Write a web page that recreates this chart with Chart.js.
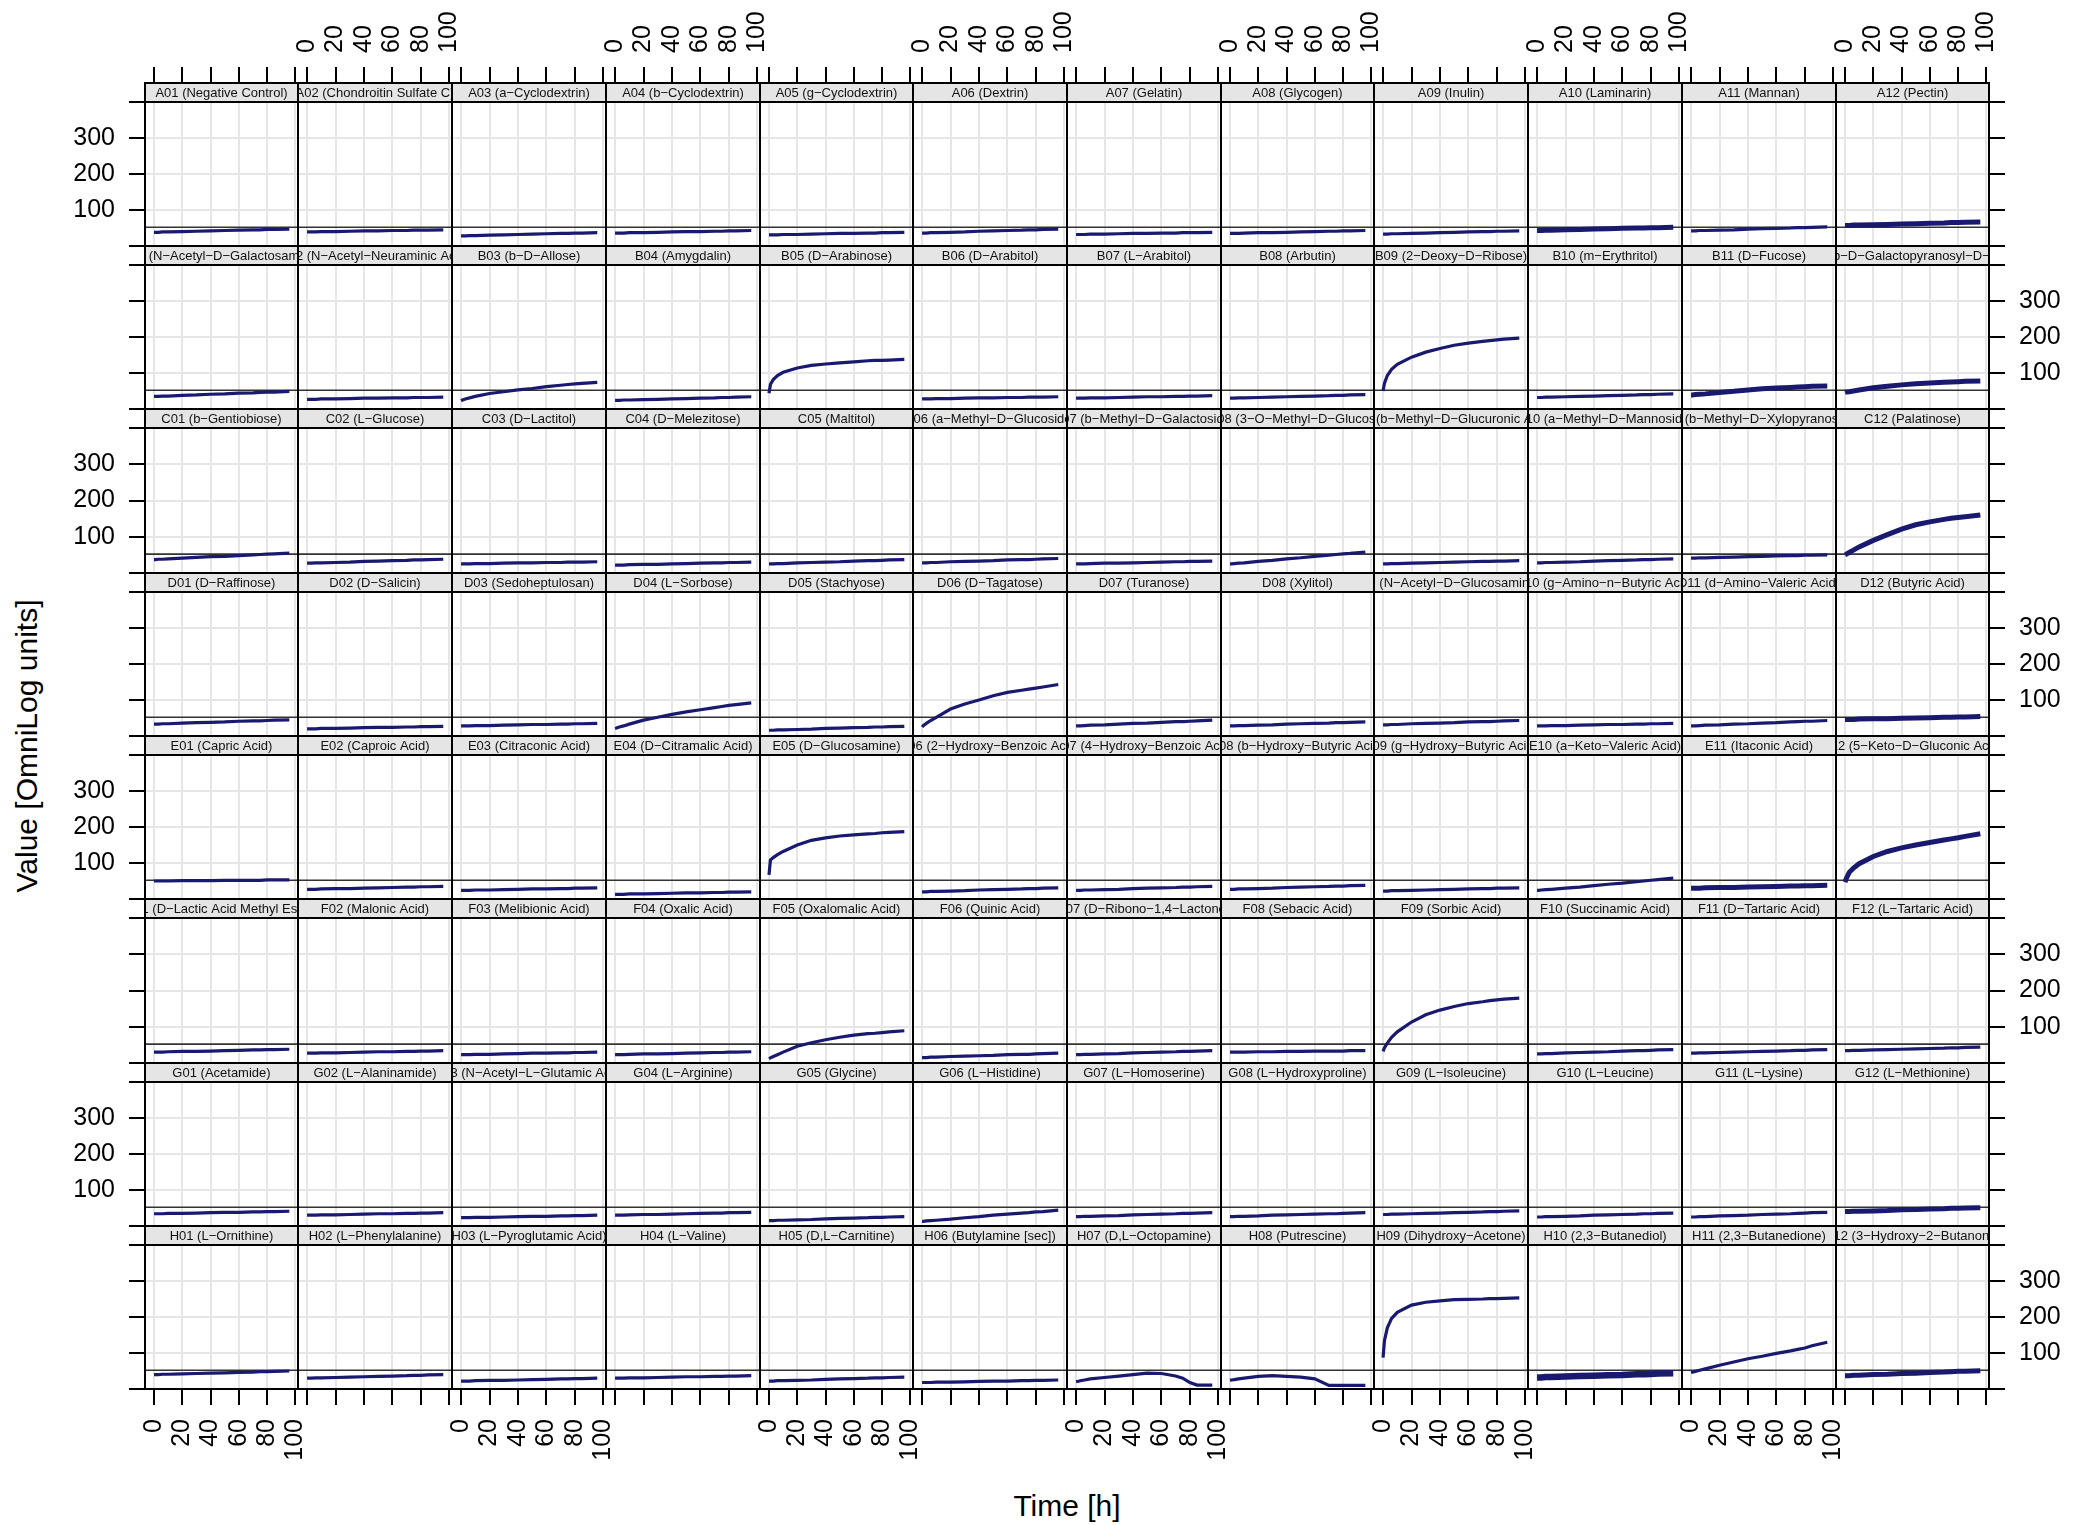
<!DOCTYPE html>
<html><head><meta charset="utf-8">
<script src="https://cdn.jsdelivr.net/npm/chart.js"></script>
<style>
html,body{margin:0;padding:0;background:#fff;overflow:hidden;width:2084px;height:1525px;}
#wrap{position:relative;width:2084px;height:1525px;overflow:hidden;background:#fff;}
canvas.panel{position:absolute;}
.lab{position:absolute;font-family:"Liberation Sans",Arial,sans-serif;font-size:30px;color:#000;white-space:nowrap;transform-origin:center center;}
</style></head><body><div id="wrap">
<div class="lab" id="ylab" style="left:27px;top:746px;transform:translate(-50%,-50%) rotate(-90deg);">Value [OmniLog units]</div>
<div class="lab" id="xlab" style="left:1067px;top:1506px;transform:translate(-50%,-50%);">Time [h]</div>
</div>
<script>
// ---------------- data ----------------
const TIME = [0, 1, 3, 6, 10, 20, 30, 40, 50, 60, 70, 75, 80, 85, 95.75];
const ROWS = ['A','B','C','D','E','F','G','H'];
const X_TICKS = [0, 20, 40, 60, 80, 100];
const Y_TICKS = [0, 100, 200, 300, 400];
const Y_TICK_LABELS = ['', '100', '200', '300', ''];
const NEG_CTRL = 52;           // negative control level (A01)
const NOISY_WELLS = ['A10','A12','B11','B12','C12','D12','E11','E12','G12','H12'];
const VERY_NOISY_WELLS = ['H10'];

const SUBSTRATES_A = ['Negative Control','Chondroitin Sulfate C','a-Cyclodextrin','b-Cyclodextrin','g-Cyclodextrin','Dextrin','Gelatin','Glycogen','Inulin','Laminarin','Mannan','Pectin'];
const SUBSTRATES_B = ['N-Acetyl-D-Galactosamine','N-Acetyl-Neuraminic Acid','b-D-Allose','Amygdalin','D-Arabinose','D-Arabitol','L-Arabitol','Arbutin','2-Deoxy-D-Ribose','m-Erythritol','D-Fucose','3-0-b-D-Galactopyranosyl-D-Arabinose'];
const SUBSTRATES_C = ['b-Gentiobiose','L-Glucose','D-Lactitol','D-Melezitose','Maltitol','a-Methyl-D-Glucoside','b-Methyl-D-Galactoside','3-O-Methyl-D-Glucose','b-Methyl-D-Glucuronic Acid','a-Methyl-D-Mannoside','b-Methyl-D-Xylopyranoside','Palatinose'];
const SUBSTRATES_D = ['D-Raffinose','D-Salicin','Sedoheptulosan','L-Sorbose','Stachyose','D-Tagatose','Turanose','Xylitol','N-Acetyl-D-Glucosaminitol','g-Amino-n-Butyric Acid','d-Amino-Valeric Acid','Butyric Acid'];
const SUBSTRATES_E = ['Capric Acid','Caproic Acid','Citraconic Acid','D-Citramalic Acid','D-Glucosamine','2-Hydroxy-Benzoic Acid','4-Hydroxy-Benzoic Acid','b-Hydroxy-Butyric Acid','g-Hydroxy-Butyric Acid','a-Keto-Valeric Acid','Itaconic Acid','5-Keto-D-Gluconic Acid'];
const SUBSTRATES_F = ['D-Lactic Acid Methyl Ester','Malonic Acid','Melibionic Acid','Oxalic Acid','Oxalomalic Acid','Quinic Acid','D-Ribono-1,4-Lactone','Sebacic Acid','Sorbic Acid','Succinamic Acid','D-Tartaric Acid','L-Tartaric Acid'];
const SUBSTRATES_G = ['Acetamide','L-Alaninamide','N-Acetyl-L-Glutamic Acid','L-Arginine','Glycine','L-Histidine','L-Homoserine','L-Hydroxyproline','L-Isoleucine','L-Leucine','L-Lysine','L-Methionine'];
const SUBSTRATES_H = ['L-Ornithine','L-Phenylalanine','L-Pyroglutamic Acid','L-Valine','D,L-Carnitine','Butylamine [sec]','D,L-Octopamine','Putrescine','Dihydroxy-Acetone','2,3-Butanediol','2,3-Butanedione','3-Hydroxy-2-Butanone'];

const VALUES_A = [
 [38,38,38,39,39,40,41,42,43,44,45,45,46,46,47],
 [39,39,39,39,40,40,41,42,42,43,43,44,44,44,45],
 [28,28,28,29,29,30,31,32,33,34,35,35,36,36,37],
 [36,36,36,36,37,37,38,39,40,40,41,41,42,42,43],
 [31,31,31,31,32,32,33,34,35,35,36,36,37,37,38],
 [36,36,36,37,37,38,39,41,42,43,44,45,45,46,47],
 [32,32,32,32,33,33,34,35,35,36,36,37,37,37,38],
 [35,35,35,35,36,37,37,38,39,40,41,41,42,42,43],
 [33,33,33,34,34,35,36,37,38,39,40,40,41,41,42],
 [43,43,43,44,44,45,46,47,48,49,50,50,51,51,52],
 [42,42,42,43,43,44,45,47,48,49,50,51,51,52,53],
 [57,57,57,58,58,59,60,61,62,63,64,65,65,66,67]
];
const VALUES_B = [
 [35,35,35,36,36,38,39,41,42,44,45,46,47,47,49],
 [27,27,27,27,28,28,29,30,30,31,31,32,32,32,33],
 [23,25,28,31,35,43,48,53,57,62,66,68,70,71,74],
 [24,24,24,25,25,26,27,28,29,30,31,32,32,33,34],
 [44,68,82,93,102,114,121,125,128,131,134,135,135,136,138],
 [28,28,28,28,29,29,30,31,31,32,32,33,33,33,34],
 [30,30,30,30,31,31,32,33,34,34,35,35,36,36,37],
 [30,30,30,31,31,32,33,34,35,36,37,38,38,39,40],
 [50,72,93,110,124,144,158,168,177,183,188,190,192,194,197],
 [32,32,32,33,33,34,35,36,37,38,39,40,40,41,42],
 [39,39,40,41,42,46,49,53,56,58,60,61,62,63,64],
 [46,47,48,50,53,59,63,67,70,72,74,75,76,77,78]
];
const VALUES_C = [
 [37,37,38,38,39,41,43,45,46,48,50,51,52,53,55],
 [27,27,27,28,28,29,30,32,33,34,35,36,36,37,38],
 [25,25,25,25,26,26,27,28,28,29,29,30,30,30,31],
 [22,22,22,22,23,24,24,25,26,27,28,28,29,29,30],
 [25,25,25,26,26,28,29,30,31,33,34,34,35,36,37],
 [28,28,28,29,29,31,32,33,34,36,37,37,38,39,40],
 [25,25,25,25,26,27,27,28,29,30,31,31,32,32,33],
 [25,25,26,27,28,32,35,39,42,46,49,51,53,54,58],
 [25,25,25,26,26,27,28,29,30,31,32,32,33,33,34],
 [28,28,28,29,29,30,31,33,34,35,36,37,37,38,39],
 [41,41,41,42,42,43,44,45,46,47,48,48,49,49,50],
 [50,52,57,63,72,90,106,121,133,141,148,151,153,155,160]
];
const VALUES_D = [
 [33,33,33,34,34,36,37,38,39,41,42,42,43,44,45],
 [20,20,20,20,21,21,22,23,24,24,25,25,26,26,27],
 [28,28,28,28,29,29,30,31,32,32,33,33,34,34,35],
 [21,22,25,28,33,44,52,60,67,73,79,82,85,87,92],
 [16,16,16,17,17,18,19,21,22,23,24,25,25,26,27],
 [25,29,35,43,52,75,89,100,112,121,127,130,133,136,143],
 [28,28,28,29,30,31,33,35,36,38,40,40,41,42,44],
 [28,28,28,29,29,30,31,33,34,35,36,37,37,38,39],
 [31,31,31,32,32,34,35,36,37,39,40,40,41,42,43],
 [28,28,28,28,29,29,30,31,32,32,33,33,34,34,35],
 [28,28,28,29,30,31,33,34,36,37,39,40,41,41,43],
 [46,46,46,46,47,48,48,49,50,51,52,52,53,53,54]
];
const VALUES_E = [
 [50,50,50,50,50,51,51,51,52,52,52,52,53,53,53],
 [27,27,27,27,28,29,29,30,31,32,33,33,34,34,35],
 [24,24,24,24,25,25,26,27,28,28,29,29,30,30,31],
 [13,13,13,13,14,14,15,16,17,17,18,18,19,19,20],
 [67,108,115,123,132,150,163,170,175,178,181,182,184,185,187],
 [20,20,20,21,21,22,23,25,26,27,28,29,29,30,31],
 [24,24,24,25,25,26,27,29,30,31,32,33,33,34,35],
 [27,27,27,28,28,29,30,32,33,34,35,36,36,37,38],
 [22,22,22,23,23,24,25,26,27,28,29,29,30,30,31],
 [24,24,25,26,27,30,33,37,41,44,48,50,52,54,58],
 [30,30,30,30,31,32,32,33,34,35,36,36,37,37,38],
 [47,58,74,86,98,118,132,142,150,157,164,167,170,174,181]
];
const VALUES_F = [
 [30,30,30,30,31,32,32,33,34,35,36,36,37,37,38],
 [27,27,27,27,28,28,29,30,31,31,32,32,33,33,34],
 [23,23,23,23,24,24,25,26,27,27,28,28,29,29,30],
 [23,23,23,23,24,25,25,26,27,28,29,29,30,30,31],
 [12,14,18,23,30,46,56,64,71,77,81,82,84,86,89],
 [15,15,15,16,16,18,19,20,21,23,24,24,25,26,27],
 [23,23,23,24,24,25,26,28,29,30,31,32,32,33,34],
 [30,30,30,30,30,31,31,32,32,33,33,33,33,34,34],
 [32,42,55,71,86,113,133,146,156,164,169,172,174,176,179],
 [25,25,25,26,26,28,29,30,31,33,34,34,35,36,37],
 [27,27,27,28,28,29,30,31,32,33,34,35,35,36,37],
 [34,34,34,35,35,36,37,38,39,40,41,42,42,43,44]
];
const VALUES_G = [
 [34,34,34,34,35,35,36,37,38,38,39,39,40,40,41],
 [30,30,30,30,31,31,32,33,34,34,35,35,36,36,37],
 [23,23,23,23,24,24,25,26,27,27,28,28,29,29,30],
 [30,30,30,30,31,32,32,33,34,35,36,36,37,37,38],
 [15,15,15,16,16,17,18,20,21,22,23,24,24,25,26],
 [13,13,14,15,16,19,23,26,30,33,36,37,39,40,44],
 [26,26,26,27,27,28,29,31,32,33,34,35,35,36,37],
 [26,26,26,27,27,28,30,31,32,33,34,34,35,36,37],
 [32,32,32,33,33,34,35,36,37,38,39,40,40,41,42],
 [25,25,25,26,26,27,28,30,31,32,33,34,34,35,36],
 [25,25,25,26,26,28,29,30,32,33,34,35,36,37,38],
 [40,40,40,41,41,42,43,45,46,47,48,49,49,50,51]
];
const VALUES_H = [
 [40,40,40,41,41,42,43,44,45,46,47,48,48,49,50],
 [30,30,30,31,31,32,33,34,35,36,37,38,38,39,40],
 [22,22,22,22,23,24,24,25,26,27,28,28,29,29,30],
 [30,30,30,30,31,31,32,33,34,34,35,35,36,36,37],
 [22,22,22,23,23,24,25,27,28,29,30,31,31,32,33],
 [18,18,18,18,19,19,20,21,22,22,23,23,24,24,25],
 [20,21,23,25,28,32,36,40,44,43,36,30,18,11,11],
 [24,25,26,28,30,35,37,35,33,28,10,10,10,10,10],
 [87,135,170,196,213,233,241,245,248,249,250,251,251,252,253],
 [32,32,32,33,33,35,36,37,38,39,41,41,42,43,44],
 [46,47,49,52,56,66,75,84,91,99,106,110,114,120,130],
 [37,37,37,38,38,40,41,43,44,46,47,48,49,49,51]
];

const SUBSTRATES = [SUBSTRATES_A,SUBSTRATES_B,SUBSTRATES_C,SUBSTRATES_D,SUBSTRATES_E,SUBSTRATES_F,SUBSTRATES_G,SUBSTRATES_H];
const VALUES = [VALUES_A,VALUES_B,VALUES_C,VALUES_D,VALUES_E,VALUES_F,VALUES_G,VALUES_H];

// ---------------- layout / style ----------------
const FONT = '"Liberation Sans", Arial, Helvetica, sans-serif';
const GRID_LEFT = 144.7, COL_W = 153.72, GRID_TOP = 82.7, ROW_H = 163.3, STRIP_H = 19;
const M = 100, AX = 90;
const X_MIN = -6.37, X_MAX = 101.89;
const LINE_COLOR = '#191970';
const TICK_FONT_SIZE = 25;

Chart.defaults.font.family = FONT;
Chart.defaults.animation = false;

const panelPlugin = {
  id: 'panel',
  beforeDatasetsDraw(chart) {
    const {ctx, chartArea: a} = chart;
    const yy = chart.scales.y.getPixelForValue(NEG_CTRL);
    ctx.save();
    ctx.strokeStyle = '#333333';
    ctx.lineWidth = 1.6;
    ctx.beginPath(); ctx.moveTo(a.left, yy); ctx.lineTo(a.right, yy); ctx.stroke();
    ctx.restore();
  },
  afterDatasetsDraw(chart, args, opts) {
    const {ctx, chartArea: a} = chart;
    const w = a.right - a.left;
    ctx.save();
    ctx.fillStyle = '#e5e5e5';
    ctx.fillRect(a.left, a.top, w, STRIP_H);
    ctx.save();
    ctx.beginPath(); ctx.rect(a.left + 1, a.top, w - 2, STRIP_H); ctx.clip();
    ctx.fillStyle = '#111';
    ctx.font = '13px ' + FONT;
    ctx.textAlign = 'center'; ctx.textBaseline = 'middle';
    ctx.fillText(opts.label, (a.left + a.right) / 2, a.top + STRIP_H / 2 + 0.5);
    ctx.restore();
    ctx.strokeStyle = '#000'; ctx.lineWidth = 2;
    ctx.strokeRect(a.left, a.top, w, a.bottom - a.top);
    ctx.beginPath(); ctx.moveTo(a.left, a.top + STRIP_H); ctx.lineTo(a.right, a.top + STRIP_H); ctx.stroke();
    ctx.restore();
  }
};

const wrap = document.getElementById('wrap');
for (let r = 0; r < 8; r++) {
  for (let c = 0; c < 12; c++) {
    const x0 = Math.round(GRID_LEFT + c * COL_W), x1 = Math.round(GRID_LEFT + (c + 1) * COL_W);
    const y0 = Math.round(GRID_TOP + r * ROW_H), y1 = Math.round(GRID_TOP + (r + 1) * ROW_H);
    const cw = x1 - x0, ch = y1 - y0;
    const cv = document.createElement('canvas');
    cv.className = 'panel';
    cv.width = cw + 2 * M; cv.height = ch + 2 * M;
    cv.style.left = (x0 - M) + 'px'; cv.style.top = (y0 - M) + 'px';
    cv.style.width = cv.width + 'px'; cv.style.height = cv.height + 'px';
    wrap.appendChild(cv);

    const well = ROWS[r] + String(c + 1).padStart(2, '0');
    const label = well + ' (' + SUBSTRATES[r][c] + ')';
    const vals = VALUES[r][c];
    const pts = TIME.map((t, i) => ({x: t, y: vals[i]}));

    const topAxis = r === 0, bottomAxis = r === 7;
    const leftAxis = c === 0, rightAxis = c === 11;
    const xShown = topAxis || bottomAxis;
    const yShown = leftAxis || rightAxis;
    const xLabeled = (topAxis && c % 2 === 1) || (bottomAxis && c % 2 === 0);
    const yLabeled = (leftAxis && r % 2 === 0) || (rightAxis && r % 2 === 1);
    const yMax = 400 * ch / (ch - STRIP_H);

    let bw = 3.2;
    if (NOISY_WELLS.includes(well)) bw = 5;
    if (VERY_NOISY_WELLS.includes(well)) bw = 6.5;

    new Chart(cv, {
      type: 'line',
      data: { datasets: [{ data: pts, borderColor: LINE_COLOR, borderWidth: bw, pointRadius: 0, tension: 0, fill: false }] },
      plugins: [panelPlugin],
      options: {
        responsive: false, devicePixelRatio: 1, animation: false,
        layout: {
          autoPadding: false,
          padding: { left: M - (leftAxis ? AX : 0), right: M - (rightAxis ? AX : 0), top: M - (topAxis ? AX : 0), bottom: M - (bottomAxis ? AX : 0) }
        },
        plugins: { legend: { display: false }, tooltip: { enabled: false }, title: { display: false }, panel: { label: label.replace(/-/g, '\u2212') } },
        scales: {
          x: {
            type: 'linear', min: X_MIN, max: X_MAX,
            position: topAxis ? 'top' : 'bottom',
            afterBuildTicks: s => { s.ticks = X_TICKS.map(v => ({value: v})); },
            afterFit: s => { s.height = xShown ? AX : 0; s.paddingLeft = 0; s.paddingRight = 0; },
            border: { display: false },
            grid: { color: '#e6e6e6', lineWidth: 2, drawTicks: xShown, tickLength: 16, tickColor: '#000', tickWidth: 2 },
            ticks: { display: xShown, autoSkip: false, minRotation: 90, maxRotation: 90, padding: 14, color: '#000',
                     labelOffset: topAxis ? TICK_FONT_SIZE * 1.2 : 0,
                     font: { family: FONT, size: TICK_FONT_SIZE }, callback: v => xLabeled ? String(v) : '' }
          },
          y: {
            type: 'linear', min: 0, max: yMax,
            position: rightAxis ? 'right' : 'left',
            afterBuildTicks: s => { s.ticks = Y_TICKS.map(v => ({value: v})); },
            afterFit: s => { s.width = yShown ? AX : 0; s.paddingTop = 0; s.paddingBottom = 0; },
            border: { display: false },
            grid: { color: '#e6e6e6', lineWidth: 2, drawTicks: yShown, tickLength: 16, tickColor: '#000', tickWidth: 2 },
            ticks: { display: yShown, padding: 14, color: '#000', font: { family: FONT, size: TICK_FONT_SIZE },
                     callback: v => yLabeled ? Y_TICK_LABELS[Y_TICKS.indexOf(v)] : '' }
          }
        }
      }
    });
  }
}
</script>
</body></html>
